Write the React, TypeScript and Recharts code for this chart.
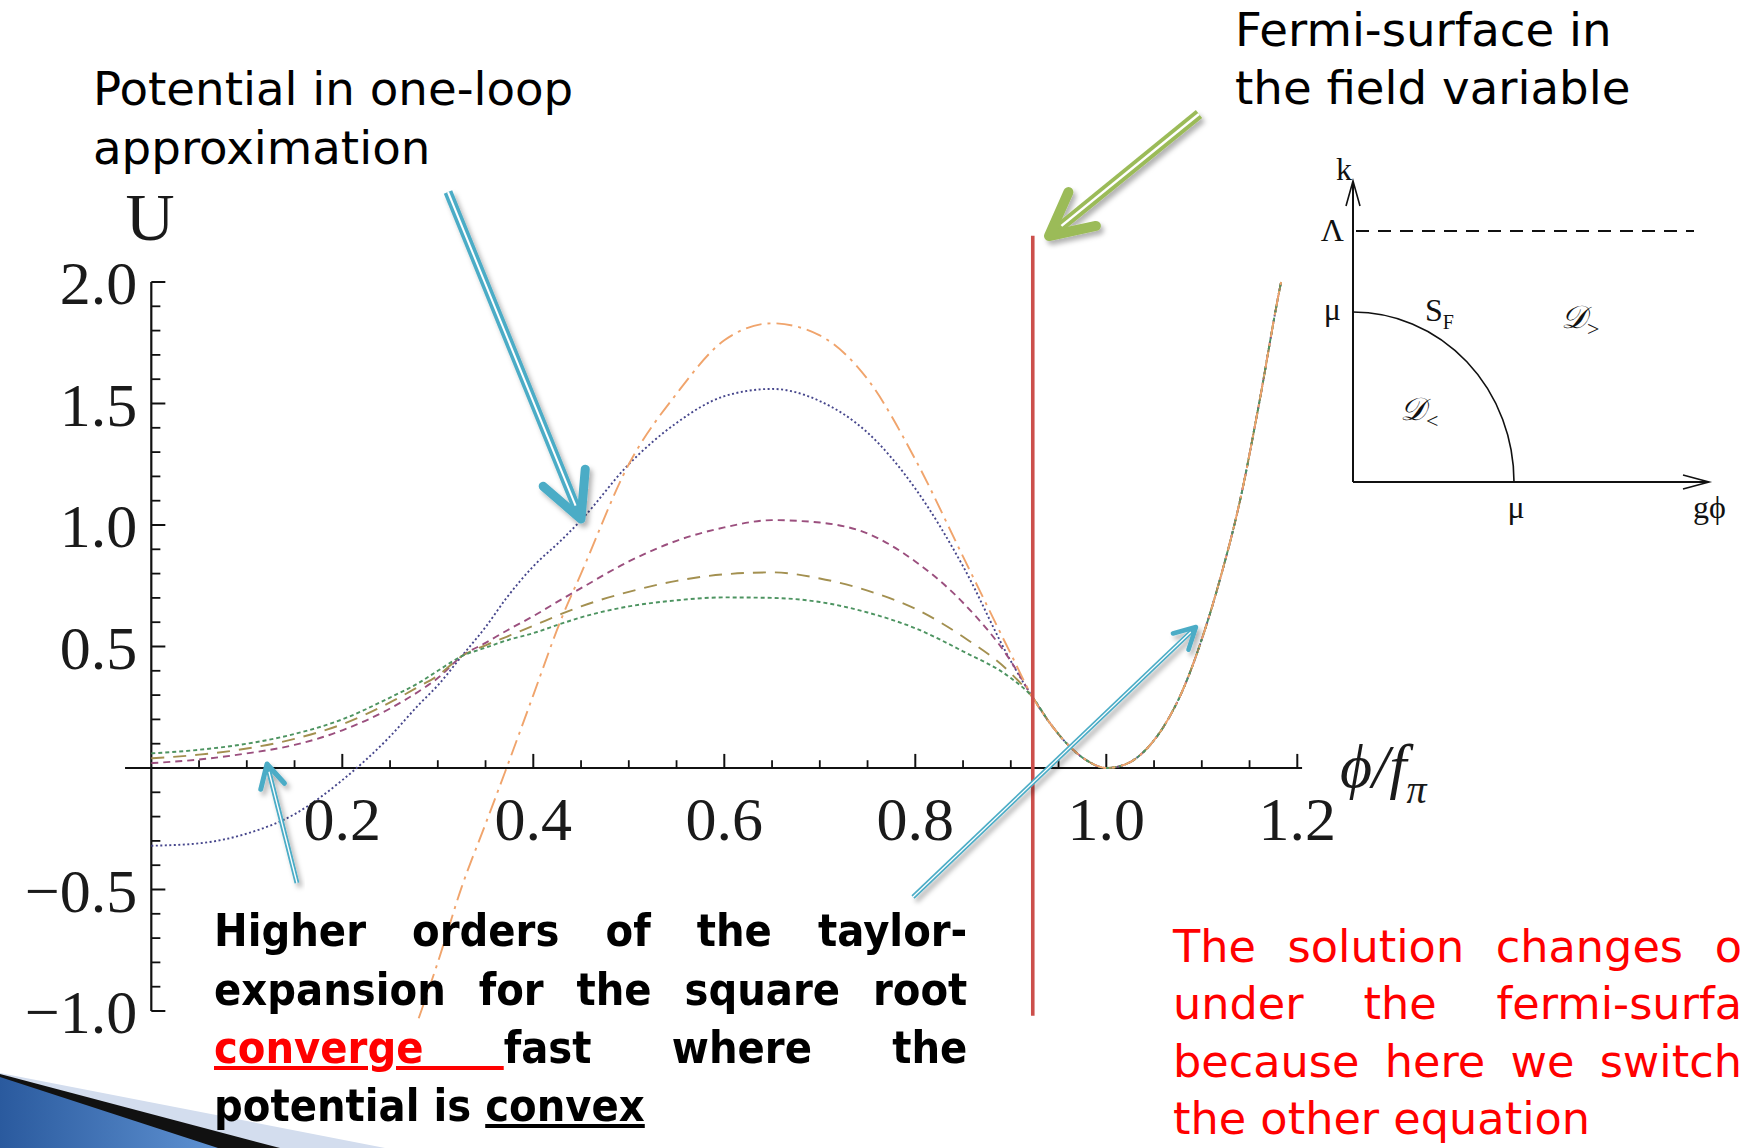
import React from 'react';
import { ComposedChart, Line, XAxis, YAxis, ReferenceLine } from 'recharts';

// ---------------- data ----------------
// field variable phi/f_pi where the Taylor orders still differ
const phiHead = [0, 0.05, 0.1, 0.15, 0.2, 0.25, 0.28, 0.3, 0.325, 0.35, 0.372, 0.4, 0.43, 0.45, 0.5, 0.55, 0.6, 0.65, 0.7, 0.75, 0.8, 0.85, 0.9];
// series values (U) on phiHead
const uOrder1 = [-0.32, -0.31, -0.27, -0.19, -0.05, 0.13, 0.26, 0.34, 0.46, 0.58, 0.70, 0.83, 0.94, 1.02, 1.25, 1.42, 1.53, 1.56, 1.51, 1.38, 1.15, 0.83, 0.44];
const uOrder2 = [0.02, 0.035, 0.06, 0.095, 0.155, 0.245, 0.315, 0.37, 0.46, 0.515, 0.565, 0.625, 0.695, 0.74, 0.85, 0.935, 0.99, 1.02, 1.01, 0.965, 0.85, 0.68, 0.44];
const uOrder3 = [0.04, 0.055, 0.08, 0.12, 0.18, 0.27, 0.335, 0.38, 0.46, 0.505, 0.54, 0.585, 0.635, 0.665, 0.725, 0.77, 0.797, 0.805, 0.78, 0.73, 0.655, 0.54, 0.39];
const uOrder4 = [0.06, 0.075, 0.10, 0.14, 0.20, 0.29, 0.35, 0.40, 0.46, 0.495, 0.525, 0.555, 0.595, 0.62, 0.665, 0.69, 0.702, 0.70, 0.683, 0.64, 0.575, 0.48, 0.37];
const uOrder5 = [null, null, null, null, null, null, -1.03, -0.80, -0.49, -0.23, 0.0, 0.30, 0.62, 0.80, 1.25, 1.54, 1.76, 1.83, 1.78, 1.60, 1.27, 0.87, 0.47];
// common branch beyond the Fermi surface (all orders coincide)
const phiTail = [0.923, 0.94, 0.96, 0.98, 1.0, 1.02, 1.04, 1.06, 1.08, 1.1, 1.12, 1.14, 1.16, 1.18, 1.183];
const uTail = [0.29, 0.19, 0.095, 0.03, 0.0, 0.015, 0.07, 0.17, 0.32, 0.53, 0.79, 1.10, 1.50, 1.94, 2.0];

const fermiPhi = 0.923;
const fermiRange = [-1.02, 2.19];

// axis ticks
const xMajorTicks = [0.2, 0.4, 0.6, 0.8, 1.0, 1.2];
const xTickLabels = ['0.2', '0.4', '0.6', '0.8', '1.0', '1.2'];
const xMinorTicks = [0.05, 0.1, 0.15, 0.25, 0.3, 0.35, 0.45, 0.5, 0.55, 0.65, 0.7, 0.75, 0.85, 0.9, 0.95, 1.05, 1.1, 1.15];
const yMajorTicks = [-1.0, -0.5, 0.5, 1.0, 1.5, 2.0];
const yTickLabels = ['\u22121.0', '\u22120.5', '0.5', '1.0', '1.5', '2.0'];
const yMinorTicks = [-0.9, -0.8, -0.7, -0.6, -0.4, -0.3, -0.2, -0.1, 0.1, 0.2, 0.3, 0.4, 0.6, 0.7, 0.8, 0.9, 1.1, 1.2, 1.3, 1.4, 1.6, 1.7, 1.8, 1.9];

const seriesDefs = [
  { key: 'o1', values: uOrder1, color: '#46468c', dash: '2 2.5' },
  { key: 'o2', values: uOrder2, color: '#9b4f7e', dash: '7 5' },
  { key: 'o3', values: uOrder3, color: '#a39050', dash: '13 9' },
  { key: 'o4', values: uOrder4, color: '#4d9461', dash: '4 3' },
  { key: 'o5', values: uOrder5, color: '#f0a46c', dash: '16 6 3 6' },
];

const rows: any[] = [
  ...phiHead.map((p, i) => {
    const r: any = { phi: p };
    seriesDefs.forEach((s) => { r[s.key] = s.values[i]; });
    return r;
  }),
  ...phiTail.map((p, i) => {
    const r: any = { phi: p };
    seriesDefs.forEach((s) => { r[s.key] = uTail[i]; });
    return r;
  }),
];

// ---------------- styles ----------------
const W = 1742;
const H = 1148;
const SERIF = '"Liberation Serif", "Times New Roman", serif';
const SANS = '"DejaVu Sans", Verdana, sans-serif';
const X_MAJOR_LEN = 0.058;
const X_MINOR_LEN = 0.032;
const Y_MAJOR_LEN = 0.0147;
const Y_MINOR_LEN = 0.0095;
const tickLabelStyle = { fill: '#1a1a1a', fontSize: 62, fontFamily: SERIF };

function arrowWings(x1: number, y1: number, x2: number, y2: number, head: number, angleDeg: number) {
  const dx = x2 - x1, dy = y2 - y1;
  const len = Math.hypot(dx, dy);
  const bx = -dx / len, by = -dy / len;
  const a = (angleDeg * Math.PI) / 180;
  const c = Math.cos(a), s = Math.sin(a);
  return {
    w1: [x2 + head * (bx * c - by * s), y2 + head * (bx * s + by * c)],
    w2: [x2 + head * (bx * c + by * s), y2 + head * (-bx * s + by * c)],
    ux: -bx, uy: -by,
  };
}

function Arrow(props: { x1: number; y1: number; x2: number; y2: number; color: string; w: number; gap: number; head: number; angle?: number }) {
  const { x1, y1, x2, y2, color, w, gap, head } = props;
  const { w1, w2, ux, uy } = arrowWings(x1, y1, x2, y2, head, props.angle ?? 27);
  const ex = x2 - ux * w * 1.6, ey = y2 - uy * w * 1.6;
  return (
    <g filter="url(#arrowShadow)">
      <line x1={x1} y1={y1} x2={x2 - ux * w * 0.5} y2={y2 - uy * w * 0.5} stroke={color} strokeWidth={w} />
      <line x1={x1} y1={y1} x2={ex} y2={ey} stroke="#ffffff" strokeWidth={gap} />
      <polyline
        points={`${w1[0]},${w1[1]} ${x2},${y2} ${w2[0]},${w2[1]}`}
        fill="none"
        stroke={color}
        strokeWidth={w}
        strokeLinecap="round"
        strokeLinejoin="round"
      />
    </g>
  );
}

const justLine: React.CSSProperties = { textAlign: 'justify', textAlignLast: 'justify' as any };
const lastLine: React.CSSProperties = { textAlign: 'left', textAlignLast: 'left' as any };

export default function App() {
  return (
    <div style={{ position: 'absolute', left: 0, top: 0, width: W, height: H, overflow: 'hidden', background: '#ffffff' }}>
      <div style={{ position: 'absolute', left: 0, top: 0 }}>
        <ComposedChart
          width={W}
          height={H}
          data={rows}
          margin={{ top: 221.25, left: 122.65, right: 425.6, bottom: 124.85 }}
        >
          <XAxis type="number" dataKey="phi" domain={[-0.03, 1.22]} hide allowDataOverflow />
          <YAxis type="number" domain={[-1.05, 2.25]} hide allowDataOverflow />

          {/* axes through the origin */}
          <ReferenceLine ifOverflow="visible" segment={[{ x: -0.0275, y: 0 }, { x: 1.205, y: 0 }]} stroke="#111" strokeWidth={2.2} />
          <ReferenceLine ifOverflow="visible" segment={[{ x: 0, y: -1.0 }, { x: 0, y: 2.0 }]} stroke="#111" strokeWidth={2.2} />

          {xMinorTicks.map((t) => (
            <ReferenceLine key={'xm' + t} ifOverflow="visible" segment={[{ x: t, y: 0 }, { x: t, y: X_MINOR_LEN }]} stroke="#111" strokeWidth={1.8} />
          ))}
          {xMajorTicks.map((t, i) => (
            <ReferenceLine
              key={'xM' + t}
              ifOverflow="visible"
              segment={[{ x: t, y: 0 }, { x: t, y: X_MAJOR_LEN }]}
              stroke="#111"
              strokeWidth={2}
              label={{ value: xTickLabels[i], position: 'bottom', offset: 28, ...tickLabelStyle }}
            />
          ))}
          {yMinorTicks.map((t) => (
            <ReferenceLine key={'ym' + t} ifOverflow="visible" segment={[{ x: 0, y: t }, { x: Y_MINOR_LEN, y: t }]} stroke="#111" strokeWidth={1.8} />
          ))}
          {yMajorTicks.map((t, i) => (
            <ReferenceLine
              key={'yM' + t}
              ifOverflow="visible"
              segment={[{ x: 0, y: t }, { x: Y_MAJOR_LEN, y: t }]}
              stroke="#111"
              strokeWidth={2}
              label={{ value: yTickLabels[i], position: 'left', offset: 14, ...tickLabelStyle }}
            />
          ))}

          {seriesDefs.map((s) => (
            <Line
              key={s.key}
              type="monotone"
              dataKey={s.key}
              stroke={s.color}
              strokeWidth={1.9}
              strokeDasharray={s.dash}
              dot={false}
              activeDot={false}
              isAnimationActive={false}
            />
          ))}

          <ReferenceLine
            ifOverflow="visible"
            segment={[{ x: fermiPhi, y: fermiRange[0] }, { x: fermiPhi, y: fermiRange[1] }]}
            stroke="#cc4f4b"
            strokeWidth={3.6}
          />
        </ComposedChart>
      </div>

      <svg width={W} height={H} style={{ position: 'absolute', left: 0, top: 0, pointerEvents: 'none' }}>
        <defs>
          <filter id="arrowShadow" x="-20%" y="-20%" width="140%" height="140%">
            <feDropShadow dx="3" dy="4" stdDeviation="2.5" floodColor="#000" floodOpacity="0.3" />
          </filter>
          <linearGradient id="cornerBlue" x1="0" y1="0" x2="1" y2="0">
            <stop offset="0" stopColor="#2a5a9e" />
            <stop offset="1" stopColor="#5f92d2" />
          </linearGradient>
        </defs>

        {/* slide corner decoration */}
        <polygon points="0,1073 385,1148 270,1148 0,1077" fill="#d3ddee" />
        <polygon points="0,1074 280,1148 215,1148 0,1080" fill="#111" />
        <polygon points="0,1077 218,1148 0,1148" fill="url(#cornerBlue)" />

        {/* axis titles */}
        <text x={150} y={240} textAnchor="middle" fontFamily={SERIF} fontSize={68} fill="#1a1a1a">U</text>
        <text x={1340} y={787} fontFamily={SERIF} fontStyle="italic" fontSize={62} fill="#1a1a1a">
          {'\u03D5/f'}
          <tspan fontSize={40} dy={16}>{'\u03C0'}</tspan>
        </text>

        {/* annotation texts */}
        <text fontFamily={SANS} fontSize={46.7} fill="#000">
          <tspan x={93} y={105}>Potential in one-loop</tspan>
          <tspan x={93} y={164}>approximation</tspan>
        </text>
        <text fontFamily={SANS} fontSize={46.7} fill="#000">
          <tspan x={1235} y={46}>Fermi-surface in</tspan>
          <tspan x={1235} y={104}>the field variable</tspan>
        </text>

        {/* inset: Fermi surface */}
        <g stroke="#111" fill="none">
          <line x1={1353} y1={482} x2={1353} y2={182} strokeWidth={2} />
          <polyline points="1346,206 1353,181 1360,206" strokeWidth={1.6} />
          <line x1={1353} y1={482} x2={1708} y2={482} strokeWidth={2} />
          <polyline points="1683,475 1709,482 1683,489" strokeWidth={1.6} />
          <line x1={1356} y1={231} x2={1694} y2={231} strokeWidth={2} strokeDasharray="13 9" />
          <path d="M1353,312 A161,170 0 0 1 1514,482" strokeWidth={1.6} />
        </g>
        <g fontFamily={SERIF} fill="#111" fontSize={32}>
          <text x={1344} y={180} textAnchor="middle">k</text>
          <text x={1344} y={241} textAnchor="end">{'\u039B'}</text>
          <text x={1341} y={320} textAnchor="end">{'\u03BC'}</text>
          <text x={1516} y={518} textAnchor="middle">{'\u03BC'}</text>
          <text x={1693} y={518}>{'g\u03D5'}</text>
          <text x={1425} y={321}>S<tspan fontSize={20} dy={8}>F</tspan></text>
          <text x={1561} y={328} fontStyle="italic">{'\uD835\uDC9F'}<tspan fontSize={22} dy={8} fontStyle="normal">{'>'}</tspan></text>
          <text x={1400} y={420} fontStyle="italic">{'\uD835\uDC9F'}<tspan fontSize={22} dy={8} fontStyle="normal">{'<'}</tspan></text>
        </g>

        {/* arrows */}
        <Arrow x1={448} y1={192} x2={581} y2={519} color="#4bacc6" w={9} gap={2} head={50} />
        <Arrow x1={297} y1={883} x2={267} y2={764} color="#4bacc6" w={5} gap={1.3} head={26} angle={28} />
        <Arrow x1={913} y1={897} x2={1196} y2={627} color="#4bacc6" w={4.5} gap={1.2} head={24} angle={28} />
        <Arrow x1={1199} y1={114} x2={1049} y2={236} color="#9bbb59" w={10} gap={2.5} head={48} />
      </svg>

      {/* bold justified note */}
      <div
        style={{
          position: 'absolute',
          left: 213.5,
          top: 902.4,
          width: 837,
          transform: 'scaleX(0.9)',
          transformOrigin: '0 0',
          fontFamily: SANS,
          fontWeight: 'bold',
          fontSize: 44.7,
          lineHeight: '58.3px',
          color: '#000',
        }}
      >
        <div style={justLine}>Higher orders of the taylor-</div>
        <div style={justLine}>expansion for the square root</div>
        <div style={justLine}>
          <span style={{ color: '#ff0000', textDecoration: 'underline' }}>converge </span>fast where the
        </div>
        <div style={lastLine}>
          potential is <span style={{ textDecoration: 'underline' }}>convex</span>
        </div>
      </div>

      {/* red note (cut at the right edge of the slide) */}
      <div
        style={{
          position: 'absolute',
          left: 1173,
          top: 918.8,
          width: 569,
          fontFamily: SANS,
          fontSize: 44.6,
          lineHeight: '57.5px',
          color: '#ff0000',
        }}
      >
        <div style={justLine}>The solution changes o</div>
        <div style={justLine}>under the fermi-surfa</div>
        <div style={justLine}>because here we switch</div>
        <div style={lastLine}>the other equation</div>
      </div>
    </div>
  );
}
